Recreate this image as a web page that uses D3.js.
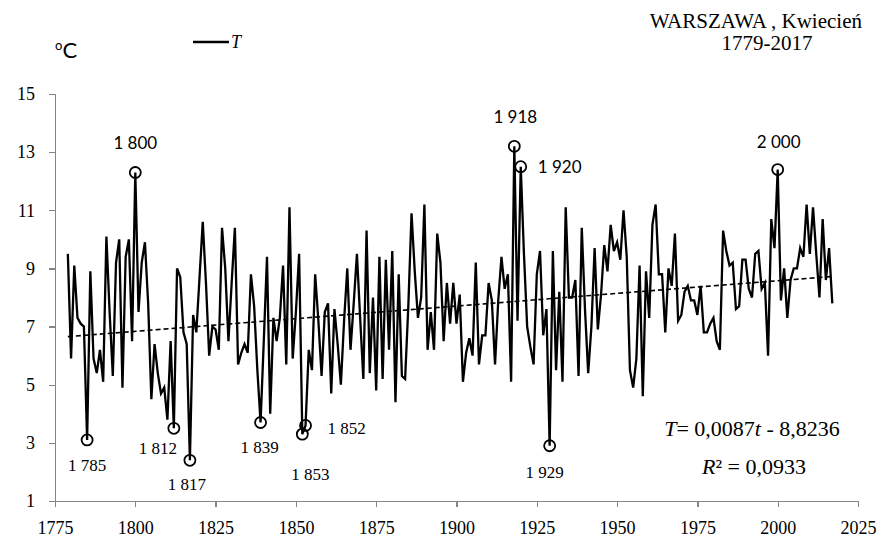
<!DOCTYPE html>
<html>
<meta charset="utf-8">
<style>
body {
  margin: 0;
  background: #fff;
}
.axis path,
.axis line {
  fill: none;
  stroke: #868686;
  stroke-width: 1.3px;
  shape-rendering: crispEdges;
}
.axis text {
  font-family: 'Liberation Serif';
  font-size: 18px;
  fill: #000;
}
.serif { font-family: 'Liberation Serif'; fill: #000; }
.sans { font-family: 'Lato'; fill: #000; }
</style>
<body>
<script src="https://d3js.org/d3.v7.min.js"></script>
<script>
// April mean temperature, Warsaw, 1779-2017
var firstYear = 1779;
var temps = [
  9.5, 5.9, 9.1, 7.3, 7.1, 7.0, 3.1, 8.9, 5.9, 5.4,
  6.2, 5.1, 10.1, 7.5, 5.3, 9.2, 10.0, 4.9, 9.4, 10.0,
  6.5, 12.3, 7.5, 9.2, 9.9, 7.8, 4.5, 6.4, 5.4, 4.7,
  4.9, 3.8, 6.5, 3.5, 9.0, 8.7, 6.8, 6.4, 2.4, 7.4,
  6.8, 8.7, 10.6, 8.5, 6.0, 7.0, 6.9, 6.2, 10.4, 9.0,
  6.5, 8.5, 10.4, 5.7, 6.1, 6.4, 6.1, 8.8, 7.7, 5.5,
  3.7, 6.5, 9.4, 4.0, 7.3, 6.5, 7.3, 9.1, 5.7, 11.1,
  5.9, 7.5, 9.5, 3.3, 3.6, 6.2, 5.5, 8.8, 7.2, 5.3,
  7.5, 7.8, 4.7, 7.6, 6.4, 5.0, 7.2, 9.0, 6.2, 7.8,
  9.5, 7.3, 5.2, 10.3, 5.4, 8.0, 4.8, 9.4, 5.2, 9.3,
  6.2, 9.6, 4.4, 8.8, 5.3, 5.2, 7.7, 10.9, 8.9, 7.3,
  8.0, 11.2, 6.2, 7.5, 6.2, 10.2, 9.2, 6.5, 8.5, 7.1,
  8.5, 7.1, 8.1, 5.1, 6.1, 6.6, 6.0, 9.2, 5.7, 6.7,
  6.7, 8.5, 7.9, 5.7, 7.9, 9.4, 8.3, 8.8, 5.1, 13.2,
  7.2, 12.5, 9.5, 7.0, 6.3, 5.7, 8.8, 9.6, 6.7, 7.6,
  2.9, 9.6, 5.5, 8.2, 5.1, 11.1, 8.0, 8.0, 8.6, 5.3,
  10.4, 7.6, 5.4, 7.0, 9.7, 6.9, 8.1, 9.8, 8.9, 10.5,
  9.6, 9.9, 9.3, 11.0, 9.4, 5.5, 4.9, 5.9, 9.1, 4.6,
  8.9, 7.3, 10.5, 11.2, 8.8, 8.8, 6.8, 9.0, 8.4, 10.2,
  7.2, 7.4, 8.2, 8.4, 7.9, 7.9, 7.4, 8.4, 6.8, 6.8,
  7.1, 7.3, 6.5, 6.2, 10.3, 9.6, 9.1, 9.2, 7.6, 7.7,
  9.3, 9.3, 8.3, 8.0, 9.5, 9.6, 8.3, 8.5, 6.0, 10.7,
  9.7, 12.4, 7.9, 9.0, 7.3, 8.6, 9.0, 9.0, 9.7, 9.4,
  11.2, 9.5, 11.1, 9.5, 8.0, 10.7, 8.6, 9.7, 7.8
];

// linear trend T = a*t + b
var trendSlope = 0.0087;
var trendIntercept = -8.8236;

var xTicks = [1775, 1800, 1825, 1850, 1875, 1900, 1925, 1950, 1975, 2000, 2025];
var yTicks = [1, 3, 5, 7, 9, 11, 13, 15];

// marked extreme years and the text printed next to them
var markYears = [1785, 1800, 1812, 1817, 1839, 1852, 1853, 1918, 1920, 1929, 2000];
var markTexts = ["1 785", "1 800", "1 812", "1 817", "1 839", "1 853", "1 852", "1 918", "1 920", "1 929", "2 000"];

var data = temps.map(function(v, i) { return {year: firstYear + i, t: v}; });

var w = 882, h = 547;

var xScale = d3.scaleLinear().domain([1775, 2025]).range([55, 858]);
var yScale = d3.scaleLinear().domain([1, 15]).range([501, 94]);

var svg = d3.select("body").append("svg")
    .attr("width", w)
    .attr("height", h);

// axes
svg.append("g")
    .attr("class", "axis")
    .attr("transform", "translate(0," + yScale(1) + ")")
    .call(d3.axisBottom(xScale).tickValues(xTicks).tickFormat(d3.format("d"))
        .tickSizeInner(6).tickSizeOuter(6).tickPadding(14));

svg.append("g")
    .attr("class", "axis")
    .attr("transform", "translate(" + xScale(1775) + ",0)")
    .call(d3.axisLeft(yScale).tickValues(yTicks).tickFormat(d3.format("d"))
        .tickSizeInner(6).tickSizeOuter(6).tickPadding(14));

// trend line
svg.append("line")
    .attr("x1", xScale(firstYear))
    .attr("y1", yScale(trendSlope * firstYear + trendIntercept))
    .attr("x2", xScale(data[data.length - 1].year))
    .attr("y2", yScale(trendSlope * data[data.length - 1].year + trendIntercept))
    .attr("stroke", "#000")
    .attr("stroke-width", 1.6)
    .attr("stroke-dasharray", "5,3");

// temperature series
var line = d3.line()
    .x(function(d) { return xScale(d.year); })
    .y(function(d) { return yScale(d.t); });

svg.append("path")
    .datum(data)
    .attr("d", line)
    .attr("fill", "none")
    .attr("stroke", "#000")
    .attr("stroke-width", 2.3)
    .attr("stroke-linejoin", "miter");

// marked points
var marks = markYears.map(function(y, i) {
  return {year: y, t: temps[y - firstYear], text: markTexts[i]};
});

svg.selectAll(".mark")
    .data(marks)
    .enter()
    .append("circle")
    .attr("class", "mark")
    .attr("cx", function(d) { return xScale(d.year); })
    .attr("cy", function(d) { return yScale(d.t); })
    .attr("r", 5.5)
    .attr("fill", "none")
    .attr("stroke", "#000")
    .attr("stroke-width", 1.8);

// label placement: [dx, dy, anchor, font]
var place = {
  1785: [0, 31, "middle", "serif"],
  1800: [0, -23, "middle", "sans"],
  1812: [-16, 26, "middle", "serif"],
  1817: [-3, 30, "middle", "serif"],
  1839: [-1, 30, "middle", "serif"],
  1852: [8, 46, "middle", "serif"],
  1853: [22, 9, "start", "serif"],
  1918: [1, -23, "middle", "sans"],
  1920: [17, 6, "start", "sans"],
  1929: [-5, 32, "middle", "serif"],
  2000: [1, -22, "middle", "sans"]
};

svg.selectAll(".mlabel")
    .data(marks)
    .enter()
    .append("text")
    .attr("class", function(d) { return "mlabel " + place[d.year][3]; })
    .attr("x", function(d) { return xScale(d.year) + place[d.year][0]; })
    .attr("y", function(d) { return yScale(d.t) + place[d.year][1]; })
    .attr("text-anchor", function(d) { return place[d.year][2]; })
    .style("font-size", "17px")
    .text(function(d) { return d.text; });

// unit
var unit = svg.append("text")
    .attr("class", "sans")
    .attr("x", 55)
    .attr("y", 58)
    .style("font-size", "22px");
unit.append("tspan").style("font-size", "13px").attr("dy", "-8").text("o");
unit.append("tspan").attr("dy", "8").text("C");

// legend
svg.append("line")
    .attr("x1", 193).attr("x2", 229)
    .attr("y1", 42).attr("y2", 42)
    .attr("stroke", "#000")
    .attr("stroke-width", 2.5);
svg.append("text")
    .attr("class", "serif")
    .attr("x", 231)
    .attr("y", 48)
    .style("font-size", "18px")
    .style("font-style", "italic")
    .text("T");

// title
svg.append("text")
    .attr("class", "serif")
    .attr("x", 862)
    .attr("y", 28)
    .attr("text-anchor", "end")
    .style("font-size", "21px")
    .text("WARSZAWA , Kwiecień");
svg.append("text")
    .attr("class", "serif")
    .attr("x", 767)
    .attr("y", 50)
    .attr("text-anchor", "middle")
    .style("font-size", "21px")
    .text("1779-2017");

// trend equation
var eq1 = svg.append("text")
    .attr("class", "serif")
    .attr("x", 752)
    .attr("y", 436)
    .attr("text-anchor", "middle")
    .style("font-size", "22px");
eq1.append("tspan").style("font-style", "italic").text("T");
eq1.append("tspan").text("= 0,0087");
eq1.append("tspan").style("font-style", "italic").text("t");
eq1.append("tspan").text(" - 8,8236");

var eq2 = svg.append("text")
    .attr("class", "serif")
    .attr("x", 754)
    .attr("y", 474)
    .attr("text-anchor", "middle")
    .style("font-size", "22px");
eq2.append("tspan").style("font-style", "italic").text("R");
eq2.append("tspan").text("² = 0,0933");
</script>
</body>
</html>
